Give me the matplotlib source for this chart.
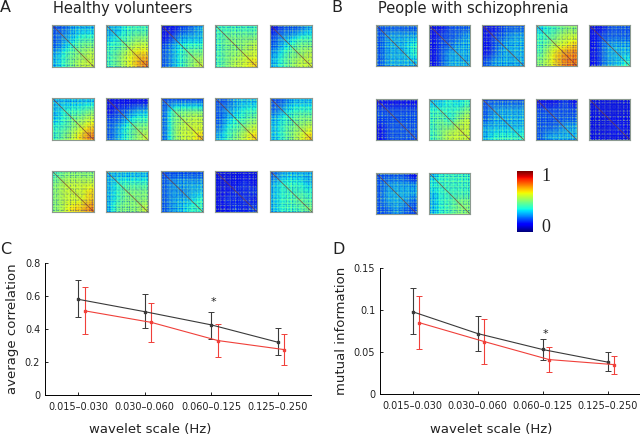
import numpy as np
import matplotlib
matplotlib.use('Agg')
import matplotlib.pyplot as plt

W, H = 640, 437

# coarse reading of each connectivity matrix, in tenths of the colour scale
healthy = [
    [[2,2,3,3,3],[2,3,3,4,4],[2,3,4,5,5],[3,4,5,5,6],[3,4,5,6,6]],
    [[3,3,4,4,4],[3,4,4,5,5],[4,4,5,6,6],[4,5,6,7,7],[4,5,6,7,8]],
    [[1,1,2,2,3],[1,2,3,3,3],[2,3,4,4,4],[2,3,4,5,5],[2,3,4,5,6]],
    [[4,4,4,4,4],[4,5,5,5,5],[4,5,5,5,6],[4,5,5,6,6],[4,5,6,6,7]],
    [[1,2,2,2,3],[2,3,3,4,4],[2,3,4,5,5],[3,4,5,5,6],[3,4,5,6,6]],
    [[3,3,3,3,3],[3,4,4,4,5],[3,4,5,5,6],[4,4,5,6,7],[4,5,6,7,8]],
    [[1,1,1,1,1],[1,2,2,3,3],[2,2,3,4,4],[2,3,4,5,5],[2,3,4,5,6]],
    [[2,2,2,2,2],[2,5,5,5,5],[2,5,5,6,6],[2,5,6,6,6],[2,5,6,6,7]],
    [[2,2,3,3,3],[2,3,3,4,4],[2,3,4,4,5],[2,4,4,5,6],[3,4,5,6,7]],
    [[2,2,3,3,3],[2,3,4,4,4],[3,4,4,5,5],[3,4,5,5,6],[3,4,5,6,7]],
    [[4,5,5,5,5],[5,6,6,6,6],[5,6,6,6,7],[5,6,6,6,7],[5,6,7,7,8]],
    [[3,3,3,3,3],[3,4,4,4,4],[3,4,5,5,5],[3,4,5,5,5],[3,5,5,5,6]],
    [[2,2,2,2,2],[2,3,3,3,3],[2,3,2,3,3],[2,3,3,3,4],[2,3,3,4,4]],
    [[1,1,1,1,1],[1,1,1,2,1],[1,1,2,1,2],[1,2,1,2,1],[1,1,2,1,2]],
    [[2,3,3,3,3],[3,4,4,4,3],[3,4,4,4,4],[3,4,4,5,4],[3,4,4,4,5]],
]
patients = [
    [[2,2,2,2,2],[2,3,3,3,3],[2,3,3,3,4],[2,3,3,3,4],[2,3,3,3,3]],
    [[1,1,2,2,2],[1,2,2,2,3],[1,2,2,3,3],[1,2,3,3,3],[1,2,3,3,3]],
    [[1,1,2,2,2],[1,2,2,3,3],[1,2,3,3,3],[1,2,3,3,3],[2,3,3,3,3]],
    [[3,4,4,5,5],[4,4,5,6,6],[4,5,6,6,7],[4,6,7,8,8],[5,6,7,8,8]],
    [[1,1,2,2,2],[1,2,2,2,2],[1,2,3,3,3],[1,2,3,3,3],[1,2,3,3,4]],
    [[1,1,1,1,1],[2,2,2,2,2],[2,2,2,2,2],[1,2,2,2,2],[1,2,2,2,2]],
    [[3,3,4,3,4],[4,4,4,4,5],[4,5,3,5,6],[4,5,5,6,6],[4,5,6,6,6]],
    [[2,2,2,2,2],[2,3,3,3,3],[2,3,3,3,3],[3,3,3,3,3],[3,4,4,4,4]],
    [[1,1,1,2,1],[2,2,2,2,2],[2,2,2,2,2],[2,2,2,3,3],[2,3,3,3,3]],
    [[1,1,1,1,1],[1,1,1,1,1],[1,1,1,1,1],[1,1,1,2,1],[1,1,1,1,1]],
    [[2,2,2,2,1],[2,3,3,3,3],[2,3,3,3,3],[2,3,3,3,2],[2,2,3,2,2]],
    [[3,4,4,4,4],[4,4,4,4,4],[3,4,4,4,4],[3,4,4,5,5],[3,4,4,5,5]],
]
# light and dark bands that run across the matrices
stripes = [-1,1,-2,0,2,-1,1,0,-2,2,1,-1,0,2,-2,1,-1,2,0,-1,
           1,-2,2,0,-1,1,2,-2,0,1,-1,2,-2,0,1,-1,2,0,-2,1]

scales = ['0.015\u20130.030', '0.030\u20130.060', '0.060\u20130.125', '0.125\u20130.250']

corr_hv = [0.58, 0.505, 0.425, 0.32]
corr_hv_lo = [0.47, 0.405, 0.34, 0.24]
corr_hv_hi = [0.695, 0.61, 0.505, 0.405]
corr_sz = [0.51, 0.44, 0.33, 0.275]
corr_sz_lo = [0.37, 0.32, 0.23, 0.18]
corr_sz_hi = [0.655, 0.555, 0.43, 0.37]

mi_hv = [0.098, 0.072, 0.053, 0.038]
mi_hv_lo = [0.071, 0.051, 0.041, 0.027]
mi_hv_hi = [0.126, 0.093, 0.066, 0.05]
mi_sz = [0.085, 0.0625, 0.041, 0.035]
mi_sz_lo = [0.053, 0.036, 0.026, 0.024]
mi_sz_hi = [0.117, 0.089, 0.056, 0.045]

fig = plt.figure(figsize=(W / 100, H / 100), dpi=100)


def px_axes(x0, y0, x1, y1):
    # pixel box, measured from the top left of the picture
    return fig.add_axes([x0 / W, 1 - y1 / H, (x1 - x0) / W, (y1 - y0) / H])


def draw_matrix(box, grid, k):
    ax = px_axes(*box)
    ax.imshow(np.array(grid) / 10, cmap='jet', vmin=0, vmax=1, interpolation='bicubic',
              extent=(-0.5, 39.5, 39.5, -0.5), aspect='auto')
    # bands go on top as a see through layer, dark where negative and pale where positive
    rows = np.roll(stripes, k * 7) / 2
    cols = np.roll(stripes, k * 11) / 2
    band = rows[:, None] + cols[None, :]
    over = np.zeros((40, 40, 4))
    over[band < 0] = (0.0, 0.15, 0.8, 0)
    over[band >= 0] = (0.8, 1.0, 0.45, 0)
    over[:, :, 3] = np.minimum(np.abs(band) * 0.35, 0.6)
    ax.imshow(over, interpolation='bilinear', extent=(-0.5, 39.5, 39.5, -0.5), aspect='auto')
    ax.plot([0, 39], [0, 39], color='#7a3a30', lw=0.6, alpha=0.75)
    ax.set_xlim(-0.5, 39.5)
    ax.set_ylim(39.5, -0.5)
    ax.set_xticks([])
    ax.set_yticks([])
    for s_ in ax.spines.values():
        s_.set_color('#8c9a90')
        s_.set_linewidth(0.8)


hv_x = [(52, 94), (106, 148), (161, 203), (215, 257), (270, 312)]
hv_y = [(25, 67), (98, 140), (171, 212)]
sz_x = [(376, 417), (429, 470), (482, 524), (536, 577), (589, 630)]
sz_y = [(25, 66), (99, 140), (173, 214)]

for i, g in enumerate(healthy):
    xa, xb = hv_x[i % 5]
    ya, yb = hv_y[i // 5]
    draw_matrix((xa, ya, xb, yb), g, i)
for i, g in enumerate(patients):
    xa, xb = sz_x[i % 5]
    ya, yb = sz_y[i // 5]
    draw_matrix((xa, ya, xb, yb), g, i + 15)

# colour scale
cax = px_axes(517, 171, 533, 232)
cax.imshow(np.linspace(1, 0, 64)[:, None], cmap='jet', aspect='auto')
cax.axis('off')
fig.text(546 / W, 1 - 177 / H, '1', family='Liberation Serif', fontsize=13, ha='center', va='center', color='#222222')
fig.text(546 / W, 1 - 228 / H, '0', family='Liberation Serif', fontsize=13, ha='center', va='center', color='#222222')

# panel letters and titles
fig.text(0 / W, 1 - 8 / H, 'A', fontsize=11.5, va='center', color='#222222')
fig.text(331 / W, 1 - 8 / H, 'B', fontsize=11.5, va='center', color='#222222')
fig.text(0 / W, 1 - 249 / H, 'C', fontsize=11.5, va='center', color='#222222')
fig.text(332 / W, 1 - 249 / H, 'D', fontsize=11.5, va='center', color='#222222')
fig.text(53 / W, 1 - 8 / H, 'Healthy volunteers', fontsize=10.5, va='center', color='#222222')
fig.text(378 / W, 1 - 8 / H, 'People with schizophrenia', fontsize=10.5, va='center', color='#222222')


def draw_lines(box, hv, hv_lo, hv_hi, sz, sz_lo, sz_hi, ylim, yticks, yticklabels, ylabel, star_y, label_x):
    ax = px_axes(*box)
    x = np.arange(1, 5)
    for xs, y, lo, hi, c in [(x, hv, hv_lo, hv_hi, '#3a3a3a'), (x + 0.1, sz, sz_lo, sz_hi, '#f0403a')]:
        y = np.array(y)
        err = [y - np.array(lo), np.array(hi) - y]
        ax.errorbar(xs, y, yerr=err, color=c, lw=0.8, elinewidth=0.8, capsize=2, capthick=0.7,
                    marker='s', ms=2)
    ax.text(3.04, star_y, '*', fontsize=8, ha='center', va='center', color='#222222')
    ax.set_xlim(0.5, 4.5)
    ax.set_ylim(*ylim)
    ax.set_xticks(x)
    ax.set_xticklabels(scales)
    ax.set_yticks(yticks)
    ax.set_yticklabels(yticklabels)
    ax.tick_params(direction='in', length=2.5, width=0.7, labelsize=7, colors='#222222')
    ax.tick_params(axis='x', pad=5)
    ax.spines['top'].set_visible(False)
    ax.spines['right'].set_visible(False)
    ax.spines['left'].set_linewidth(0.7)
    ax.spines['bottom'].set_linewidth(0.7)
    ax.set_ylabel(ylabel, fontsize=9.5, color='#222222')
    fig.text(label_x / W, 1 - 430 / H, 'wavelet scale (Hz)', fontsize=9.5, color='#222222', ha='center', va='center')
    return ax


draw_lines((45, 263, 311, 395), corr_hv, corr_hv_lo, corr_hv_hi, corr_sz, corr_sz_lo, corr_sz_hi,
           (0, 0.8), [0, 0.2, 0.4, 0.6, 0.8], ['0', '0.2', '0.4', '0.6', '0.8'], 'average correlation', 0.565, 150)
draw_lines((380, 268, 640, 394), mi_hv, mi_hv_lo, mi_hv_hi, mi_sz, mi_sz_lo, mi_sz_hi,
           (0, 0.15), [0, 0.05, 0.1, 0.15], ['0', '0.05', '0.1', '0.15'], 'mutual information', 0.0715, 491)

fig.savefig('out.png', dpi=100)
